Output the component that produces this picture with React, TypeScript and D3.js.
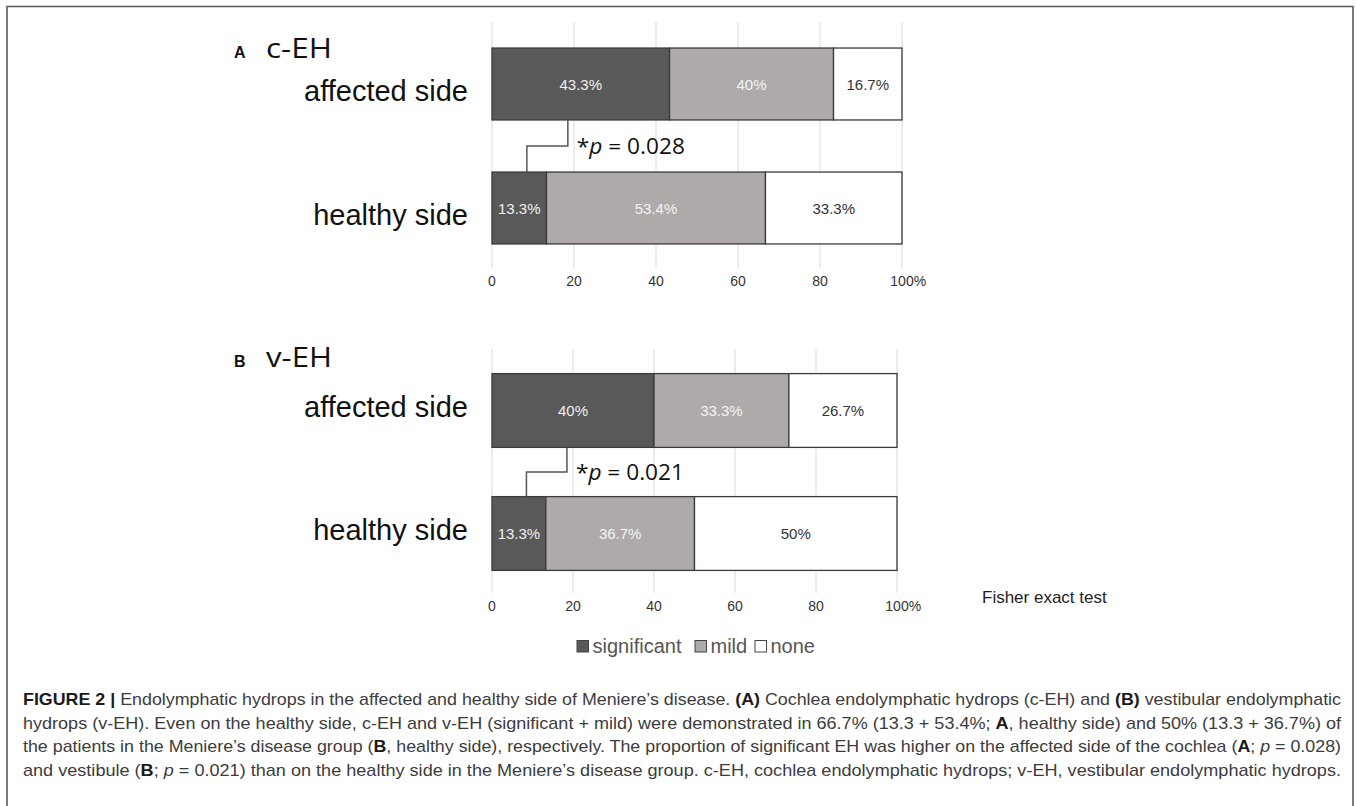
import * as d3 from 'd3'

// ---- data ----
const categories = ['affected side', 'healthy side']
const levels = ['significant', 'mild', 'none']
const cehSignificant = [43.3, 13.3]
const cehMild = [40, 53.4]
const cehNone = [16.7, 33.3]
const vehSignificant = [40, 13.3]
const vehMild = [33.3, 36.7]
const vehNone = [26.7, 50]
const xTicks = [0, 20, 40, 60, 80, 100]
const pValues = ['0.028', '0.021']
const bracketTop = 18.5   // % on affected bar
const bracketBottom = 8.5 // % on healthy bar

const FILL = ['#595959', '#aeaaaa', '#ffffff']
const LABEL_FILL = ['#f0f0f0', '#f4f4f4', '#333333']
const FONT = 'Liberation Sans, Arial, sans-serif'

const captionLines: { t: string; b?: boolean; i?: boolean }[][] = [
  [{ t: 'FIGURE 2 | ', b: true }, { t: 'Endolymphatic hydrops in the affected and healthy side of Meniere\u2019s disease. ' }, { t: '(A)', b: true }, { t: ' Cochlea endolymphatic hydrops (c-EH) and ' }, { t: '(B)', b: true }, { t: ' vestibular endolymphatic' }],
  [{ t: 'hydrops (v-EH). Even on the healthy side, c-EH and v-EH (significant + mild) were demonstrated in 66.7% (13.3 + 53.4%; ' }, { t: 'A', b: true }, { t: ', healthy side) and 50% (13.3 + 36.7%) of' }],
  [{ t: 'the patients in the Meniere\u2019s disease group (' }, { t: 'B', b: true }, { t: ', healthy side), respectively. The proportion of significant EH was higher on the affected side of the cochlea (' }, { t: 'A', b: true }, { t: '; ' }, { t: 'p', i: true }, { t: ' = 0.028)' }],
  [{ t: 'and vestibule (' }, { t: 'B', b: true }, { t: '; ' }, { t: 'p', i: true }, { t: ' = 0.021) than on the healthy side in the Meniere\u2019s disease group. c-EH, cochlea endolymphatic hydrops; v-EH, vestibular endolymphatic hydrops.' }],
]

interface PanelProps {
  letter: string
  title: string
  titleY: number
  series: number[][]   // [significant, mild, none], each per category
  p: string
  xRange: [number, number]
  yRange: [number, number]
  padInner: number
  padOuter: number
  labelDy: number
}

function Panel({ letter, title, titleY, series, p, xRange, yRange, padInner, padOuter, labelDy }: PanelProps) {
  const x = d3.scaleLinear().domain([0, 100]).range(xRange)
  const y = d3.scaleBand().domain(categories).range(yRange).paddingInner(padInner).paddingOuter(padOuter)
  const bw = y.bandwidth()

  const rows = categories.map((c, ci) => {
    let acc = 0
    return levels.map((lv, li) => {
      const v = series[li][ci]
      const seg = { cat: c, level: lv, li, x0: acc, x1: acc + v, v }
      acc += v
      return seg
    })
  })

  const yTopBar = y(categories[0])! + bw
  const yBotBar = y(categories[1])!
  const midY = (yTopBar + yBotBar) / 2
  const bx1 = x(bracketTop), bx2 = x(bracketBottom)

  return (
    <g>
      {/* grid */}
      {xTicks.map(t => (
        <line key={t} x1={x(t)} x2={x(t)} y1={yRange[0]} y2={yRange[1] - 2} stroke="#d9d9d9" strokeWidth={1} />
      ))}
      {/* tick labels: number centred on tick, % appended */}
      {xTicks.map(t => {
        const s = String(t)
        const fs = 14
        const w = s.length * 0.556 * fs
        return (
          <text key={t} x={x(t) - w / 2} y={yRange[1] + 16} fontSize={fs} fill="#333" fontFamily={FONT}>
            {s}{t === 100 ? '%' : ''}
          </text>
        )
      })}
      {/* title */}
      <text x={234} y={titleY} fontSize={16} fontWeight="bold" fill="#111" fontFamily={FONT}>{letter}</text>
      <text x={266} y={titleY} fontSize={27} fill="#111" fontFamily="Open Sans, sans-serif" textLength={66} lengthAdjust="spacingAndGlyphs">{title}</text>
      {/* category labels */}
      {categories.map(c => (
        <text key={c} x={468} y={y(c)! + bw / 2 + labelDy} textAnchor="end" fontSize={29} fill="#111" fontFamily={FONT}>{c}</text>
      ))}
      {/* bars */}
      {rows.map(r => r.map(s => (
        <g key={s.cat + s.level}>
          <rect x={x(s.x0)} y={y(s.cat)} width={x(s.x1) - x(s.x0)} height={bw}
            fill={FILL[s.li]} stroke="#3a3a3a" strokeWidth={1.3} />
          <text x={(x(s.x0) + x(s.x1)) / 2} y={y(s.cat)! + bw / 2 + 5.5} textAnchor="middle"
            fontSize={15} fill={LABEL_FILL[s.li]} fontFamily={FONT}>{s.v}%</text>
        </g>
      )))}
      {/* significance bracket */}
      <path d={`M${bx1},${yTopBar}V${midY}H${bx2}V${yBotBar}`} fill="none" stroke="#555" strokeWidth={1.5} />
      <text x={bx1 + 9} y={midY + 8} fontSize={22} fill="#111" fontFamily="Open Sans, sans-serif" textLength={108} lengthAdjust="spacingAndGlyphs">
        *<tspan fontStyle="italic">p</tspan> = {p}
      </text>
    </g>
  )
}

export default function App() {
  const legendX = [577, 695, 755]
  return (
    <svg width={1357} height={806} style={{ position: 'absolute', left: 0, top: 0, background: '#fff' }}>
      {/* figure frame */}
      <path d="M7,810V6.5H1353V810" fill="none" stroke="#5a5a5a" strokeWidth={1.6} />

      <Panel letter="A" title="c-EH" titleY={58} series={[cehSignificant, cehMild, cehNone]} p={pValues[0]}
        xRange={[492, 902]} yRange={[22, 270]} padInner={0.42} padOuter={0.21} labelDy={17} />
      <Panel letter="B" title="v-EH" titleY={367} series={[vehSignificant, vehMild, vehNone]} p={pValues[1]}
        xRange={[492, 897]} yRange={[349, 595]} padInner={0.4} padOuter={0.2} labelDy={6} />

      <text x={982} y={603} fontSize={17} fill="#222" fontFamily={FONT}>Fisher exact test</text>

      {/* legend */}
      {levels.map((lv, i) => (
        <g key={lv}>
          <rect x={legendX[i]} y={640.5} width={11.5} height={11.5} fill={FILL[i]} stroke="#444" strokeWidth={1} />
          <text x={legendX[i] + 15.5} y={652.5} fontSize={20} fill="#555" fontFamily={FONT}>{lv}</text>
        </g>
      ))}

      {/* caption */}
      {captionLines.map((line, li) => (
        <text key={li} x={23} y={705 + li * 23.6} fontSize={17} fill="#3c3c3c"
          fontFamily="Liberation Sans Narrow, Liberation Sans, Arial, sans-serif"
          textLength={1318} lengthAdjust="spacingAndGlyphs">
          {line.map((s, si) => (
            <tspan key={si} fontWeight={s.b ? 'bold' : undefined} fontStyle={s.i ? 'italic' : undefined}
              fill={s.b ? '#1a1a1a' : undefined}>{s.t}</tspan>
          ))}
        </text>
      ))}
    </svg>
  )
}
